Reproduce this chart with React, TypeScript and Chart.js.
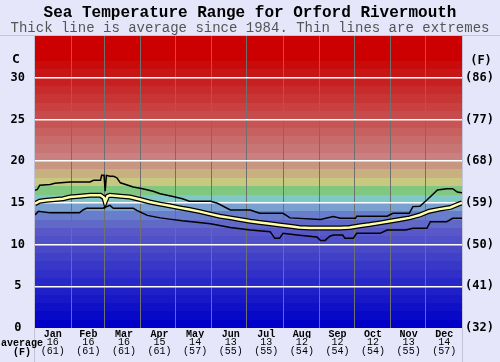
import React, { useEffect, useRef } from "react";
import { Chart, registerables } from "chart.js";
Chart.register(...registerables);

const titleText = "Sea Temperature Range for Orford Rivermouth";
const subtitleText = "Thick line is average since 1984. Thin lines are extremes";
const months = ["Jan", "Feb", "Mar", "Apr", "May", "Jun", "Jul", "Aug", "Sep", "Oct", "Nov", "Dec"];
const monthStartDays = [0, 31, 59, 90, 120, 151, 181, 212, 243, 273, 304, 334, 365];
const monthAvgC = [16, 16, 16, 15, 14, 13, 13, 12, 12, 12, 13, 14];
const monthAvgF = [61, 61, 61, 61, 57, 55, 55, 54, 54, 54, 55, 57];
const yTickValuesC = [0, 5, 10, 15, 20, 25, 30];

const avgDays = [0, 4, 10, 17, 24, 30, 38, 47, 56, 59, 60, 62, 64, 73, 81, 90, 98, 107, 115, 124, 132, 141, 150, 158, 167, 175, 184, 192, 201, 209, 218, 226, 235, 243, 252, 261, 269, 278, 286, 295, 303, 312, 320, 329, 337, 346, 355, 363, 365];
const avgVals = [14.9, 15.2, 15.3, 15.4, 15.5, 15.7, 15.8, 15.9, 15.9, 15.6, 15.1, 15.8, 15.9, 15.8, 15.7, 15.4, 15.1, 14.85, 14.65, 14.4, 14.2, 13.95, 13.65, 13.4, 13.2, 13.0, 12.8, 12.65, 12.5, 12.35, 12.2, 12.05, 12.0, 12.0, 12.0, 12.0, 12.05, 12.25, 12.4, 12.6, 12.8, 13.0, 13.2, 13.55, 14.0, 14.25, 14.45, 14.9, 15.0];

const maxDays = [0, 2, 4, 13, 17, 30, 47, 50, 56, 57, 59, 60, 61, 64, 67, 70, 73, 84, 92, 101, 107, 118, 126, 132, 150, 156, 167, 184, 192, 212, 218, 244, 255, 261, 274, 275, 301, 306, 320, 323, 329, 335, 344, 352, 357, 361, 365];
const maxVals = [16.5, 16.6, 17.1, 17.2, 17.35, 17.5, 17.5, 17.7, 17.7, 18.3, 18.3, 16.4, 18.3, 18.2, 18.2, 18.0, 17.4, 16.9, 16.7, 16.4, 16.1, 15.75, 15.5, 15.2, 15.2, 14.95, 14.15, 14.15, 13.75, 13.75, 13.2, 13.0, 13.35, 13.15, 13.15, 13.4, 13.4, 13.75, 13.75, 14.55, 14.6, 15.35, 16.55, 16.7, 16.7, 16.3, 16.2];

const minDays = [0, 3, 13, 38, 41, 44, 58, 64, 67, 84, 87, 96, 107, 115, 126, 150, 167, 184, 201, 205, 209, 212, 224, 241, 244, 248, 252, 255, 263, 265, 272, 275, 295, 301, 317, 323, 335, 338, 352, 357, 365];
const minVals = [13.55, 14.0, 13.8, 13.8, 14.15, 14.35, 14.35, 14.7, 14.35, 14.35, 14.1, 13.5, 13.2, 13.05, 12.85, 12.5, 12.05, 11.75, 11.55, 10.75, 10.75, 11.35, 11.15, 10.9, 10.5, 10.5, 11.0, 11.15, 11.15, 10.75, 10.75, 11.35, 11.35, 11.75, 11.75, 11.95, 11.95, 12.75, 12.75, 13.15, 13.15];

const toPoints = (xs: number[], ys: number[]) => xs.map((x, i) => ({ x, y: ys[i] }));

function bandColor(d: number): string {
  if (d <= 11) {
    const v = Math.round(d * 8);
    return `rgb(${v},${v},200)`;
  }
  const table: Record<number, string> = {
    12: "rgb(96,104,200)",
    13: "rgb(104,126,204)",
    14: "rgb(122,160,210)",
    15: "rgb(128,200,200)",
    16: "rgb(128,200,128)",
    17: "rgb(200,200,128)",
    18: "rgb(200,176,128)",
    19: "rgb(200,150,128)",
  };
  if (table[d]) return table[d];
  const g = Math.max(0, Math.round((128 * (32 - d)) / 12));
  return `rgb(${g === 0 ? 204 : 200},${g},${g})`;
}

const bgPlugin = {
  id: "bgBands",
  beforeDraw(chart: any) {
    const { ctx, chartArea, scales } = chart;
    const y = scales.y;
    ctx.save();
    ctx.fillStyle = "#e6e6fa";
    ctx.fillRect(0, 0, chart.width, chart.height);
    for (let d = 0; d < 35; d++) {
      const top = Math.round(y.getPixelForValue(d + 1));
      const bot = Math.round(y.getPixelForValue(d));
      ctx.fillStyle = bandColor(d);
      ctx.fillRect(chartArea.left, top, chartArea.right - chartArea.left, bot - top);
    }
    ctx.strokeStyle = "#c4c4d8";
    ctx.lineWidth = 1;
    ctx.beginPath();
    ctx.moveTo(0, chartArea.top - 0.5);
    ctx.lineTo(chart.width, chartArea.top - 0.5);
    ctx.moveTo(chartArea.left - 0.5, chartArea.top);
    ctx.lineTo(chartArea.left - 0.5, chart.height);
    ctx.moveTo(chartArea.right + 0.5, chartArea.top);
    ctx.lineTo(chartArea.right + 0.5, chart.height);
    ctx.stroke();
    ctx.restore();
  },
  afterDraw(chart: any) {
    const { ctx } = chart;
    ctx.save();
    ctx.fillStyle = "#000";
    ctx.textAlign = "center";
    ctx.textBaseline = "middle";
    ctx.font = "bold 13px 'DejaVu Sans Mono'";
    ctx.fillText("C", 16, 60);
    ctx.font = "bold 12px 'DejaVu Sans Mono'";
    ctx.fillText("(F)", 481, 61);
    ctx.font = "bold 10px 'Liberation Mono'";
    ctx.fillText("average", 22, 343);
    ctx.fillText("(F)", 22, 352);
    ctx.restore();
  },
};

export default function App() {
  const ref = useRef<HTMLCanvasElement>(null);
  useEffect(() => {
    const canvas = ref.current!;
    const chart = new Chart(canvas, {
      type: "line",
      data: {
        datasets: [
          {
            data: toPoints(avgDays, avgVals),
            borderColor: "#ffffaa",
            borderWidth: 2.5,
            pointRadius: 0,
            tension: 0,
            xAxisID: "x",
            yAxisID: "y",
            order: 0,
          },
          {
            data: toPoints(avgDays, avgVals),
            borderColor: "#000",
            borderWidth: 5,
            pointRadius: 0,
            tension: 0,
            xAxisID: "x",
            yAxisID: "y",
            order: 1,
          },
          {
            data: toPoints(maxDays, maxVals),
            borderColor: "#000",
            borderWidth: 1.5,
            pointRadius: 0,
            tension: 0,
            xAxisID: "x",
            yAxisID: "y",
            order: 2,
          },
          {
            data: toPoints(minDays, minVals),
            borderColor: "#000",
            borderWidth: 1.5,
            pointRadius: 0,
            tension: 0,
            xAxisID: "x",
            yAxisID: "y",
            order: 3,
          },
        ],
      },
      options: {
        responsive: false,
        animation: false,
        devicePixelRatio: 1,
        layout: { padding: 0 },
        plugins: {
          legend: { display: false },
          tooltip: { enabled: false },
          title: {
            display: true,
            text: titleText,
            color: "#000",
            font: { family: "'Liberation Mono'", size: 16, weight: "bold", lineHeight: 1 },
            padding: { top: 5, bottom: 0 },
          },
          subtitle: {
            display: true,
            text: subtitleText,
            color: "#555",
            font: { family: "'Liberation Mono'", size: 14, lineHeight: 1 },
            padding: { top: 0, bottom: 1 },
          },
        },
        scales: {
          x: {
            type: "linear",
            position: "bottom",
            min: 0,
            max: 365,
            afterBuildTicks: (axis: any) => {
              axis.ticks = monthStartDays.map((v) => ({ value: v }));
            },
            ticks: { display: false },
            grid: {
              drawTicks: false,
              lineWidth: 1,
              color: (c: any) =>
                c.tick && (c.tick.value === 0 || c.tick.value === 365) ? "rgba(0,0,0,0)" : "#707070",
            },
            border: { display: false },
            afterFit: (s: any) => {
              s.height = 0;
            },
          },
          xm: {
            type: "category",
            position: "bottom",
            labels: months,
            offset: true,
            grid: { display: false, drawTicks: false },
            border: { display: false },
            ticks: {
              color: "#000",
              padding: 0,
              maxRotation: 0,
              autoSkip: false,
              font: { family: "'Liberation Mono'", size: 10, weight: "bold", lineHeight: 1.2 },
            },
            afterFit: (s: any) => {
              s.height = 10;
            },
          },
          xv: {
            type: "category",
            position: "bottom",
            labels: months,
            offset: true,
            grid: { display: false, drawTicks: false },
            border: { display: false },
            ticks: {
              color: "#000",
              padding: 0,
              maxRotation: 0,
              autoSkip: false,
              font: { family: "'Liberation Mono'", size: 10, lineHeight: 0.9 },
              callback: (_v: any, i: number) => [String(monthAvgC[i]), `(${monthAvgF[i]})`],
            },
            afterFit: (s: any) => {
              s.height = 24;
            },
          },
          y: {
            type: "linear",
            position: "left",
            min: 0,
            max: 35,
            afterBuildTicks: (axis: any) => {
              axis.ticks = yTickValuesC.map((v) => ({ value: v }));
            },
            ticks: {
              color: "#000",
              padding: 10,
              crossAlign: "center",
              font: { family: "'DejaVu Sans Mono'", size: 12, weight: "bold" },
              callback: (v: any) => String(v),
            },
            grid: {
              drawTicks: false,
              lineWidth: 1.5,
              color: (c: any) =>
                c.tick && c.tick.value > 0 && c.tick.value < 35 ? "#ffffff" : "rgba(0,0,0,0)",
            },
            border: { display: false },
            afterFit: (s: any) => {
              s.width = 35;
            },
          },
          y2: {
            type: "linear",
            position: "right",
            min: 0,
            max: 35,
            afterBuildTicks: (axis: any) => {
              axis.ticks = yTickValuesC.map((v) => ({ value: v }));
            },
            ticks: {
              color: "#000",
              padding: 3,
              crossAlign: "near",
              font: { family: "'DejaVu Sans Mono'", size: 12, weight: "bold" },
              callback: (v: any) => `(${Math.round((v * 9) / 5 + 32)})`,
            },
            grid: { display: false, drawTicks: false },
            border: { display: false },
            afterFit: (s: any) => {
              s.width = 38;
            },
          },
        },
      } as any,
      plugins: [bgPlugin],
    });
    return () => chart.destroy();
  }, []);
  return (
    <div style={{ position: "fixed", left: 0, top: 0, width: 500, height: 362 }}>
      <canvas ref={ref} width={500} height={362} style={{ display: "block" }} />
    </div>
  );
}
